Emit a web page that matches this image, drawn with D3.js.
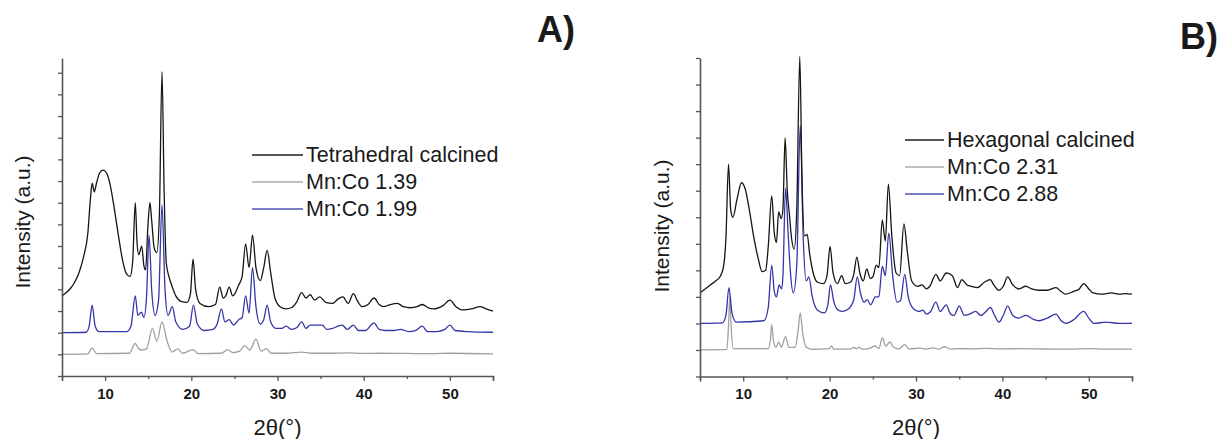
<!DOCTYPE html>
<html>
<head>
<meta charset="utf-8">
<script src="https://cdn.jsdelivr.net/npm/d3@7"></script>
<style>
  body { margin: 0; background: #fff; }
  svg { display: block; }
  text { font-family: "Liberation Sans", Arial, sans-serif; fill: #1a1a1a; }
</style>
</head>
<body>
<svg id="chart" width="1219" height="439"></svg>
<script>
// ---- data: [2theta, intensity in y-tick units] ----
var tetraCalcined = [[5,3.7],[5.5,3.85],[6,4.05],[6.5,4.35],[7,4.8],[7.5,5.5],[8,6.6],[8.3,8.2],[8.5,8.9],[8.75,8.5],[9,8.9],[9.4,9.4],[9.8,9.5],[10.2,9.35],[10.6,8.8],[11,7.9],[11.5,6.6],[12,5.4],[12.5,4.7],[12.9,4.6],[13.2,5.3],[13.5,8.0],[13.7,6.2],[13.9,5.6],[14.25,6.0],[14.5,5.1],[14.7,4.9],[14.95,6.8],[15.2,8.0],[15.4,7.2],[15.7,5.9],[16,5.7],[16.3,7.5],[16.6,14.05],[16.85,8.5],[17.1,5.2],[17.4,4.6],[17.8,4.1],[18.2,3.7],[18.8,3.45],[19.5,3.4],[19.9,3.8],[20.2,5.4],[20.5,4.0],[21,3.35],[22,3.2],[22.8,3.3],[23.3,4.1],[23.7,3.6],[24,3.7],[24.4,4.1],[24.8,3.7],[25.5,4.2],[25.9,4.6],[26.3,6.1],[26.7,5.0],[27.1,6.5],[27.5,5.0],[28,4.4],[28.4,5.0],[28.8,5.8],[29.2,4.8],[29.7,3.6],[30.3,3.2],[31,3.1],[31.6,3.15],[32.2,3.4],[32.8,3.85],[33.3,3.6],[33.8,3.75],[34.3,3.5],[34.9,3.65],[35.6,3.4],[36.4,3.35],[37,3.55],[37.6,3.65],[38.2,3.35],[38.8,3.8],[39.3,3.45],[39.8,3.2],[40.5,3.3],[41.2,3.6],[41.8,3.3],[42.3,3.2],[43.1,3.3],[43.9,3.35],[44.6,3.2],[45.4,3.15],[46.2,3.2],[46.8,3.3],[47.5,3.15],[48.1,3.1],[49.2,3.25],[50,3.5],[50.7,3.2],[51.5,3.05],[52.5,3.1],[53.5,3.2],[54.2,3.1],[55,3.0]]
var mnCo139 = [[5,1.0],[8,1.02],[8.5,1.3],[9,1.03],[12.8,1.05],[13.5,1.5],[13.9,1.25],[14.3,1.2],[14.8,1.25],[15.5,2.2],[16,1.6],[16.6,2.5],[17.2,1.6],[17.8,1.1],[18.4,1.25],[19,1.05],[20.2,1.22],[20.8,1.03],[23.5,1.05],[24.2,1.22],[24.8,1.08],[25.6,1.15],[26.2,1.4],[26.8,1.2],[27.5,1.7],[28.1,1.15],[28.7,1.25],[29.3,1.05],[31,1.05],[32.8,1.1],[34,1.05],[36,1.05],[38,1.07],[40,1.04],[42,1.05],[45,1.04],[48,1.03],[50,1.05],[55,1.02]]
var mnCo199 = [[5,2.0],[7.8,2.02],[8.15,2.3],[8.5,3.27],[8.85,2.3],[9.3,2.05],[12.5,2.05],[13,2.3],[13.5,3.7],[13.8,2.8],[14.2,2.95],[14.5,2.7],[14.8,3.6],[15.1,6.5],[15.4,4.0],[15.8,2.8],[16.2,3.5],[16.6,7.9],[16.95,4.0],[17.3,2.8],[17.8,3.2],[18.2,2.5],[19,2.15],[19.8,2.3],[20.25,3.27],[20.7,2.4],[21.5,2.1],[22.5,2.15],[23,2.4],[23.5,3.1],[23.9,2.5],[24.4,2.6],[24.9,2.35],[25.5,2.6],[25.9,2.7],[26.3,3.7],[26.7,2.9],[27.1,5.0],[27.5,3.2],[28,2.4],[28.4,2.6],[28.8,3.27],[29.2,2.5],[29.8,2.2],[30.5,2.2],[31,2.3],[31.6,2.15],[32.3,2.25],[32.8,2.5],[33.3,2.2],[33.8,2.35],[34.3,2.35],[35.2,2.35],[35.7,2.15],[36.4,2.2],[37,2.3],[37.5,2.35],[38.1,2.15],[38.8,2.35],[39.4,2.1],[40.2,2.1],[41.2,2.45],[41.8,2.15],[42.5,2.1],[43.5,2.1],[44.3,2.15],[45.2,2.05],[46,2.1],[46.8,2.3],[47.4,2.05],[48.5,2.05],[49.4,2.15],[50,2.35],[50.6,2.1],[52,2.05],[55,2.02]]

var hexaCalcined = [[5,3.15],[5.6,3.3],[6.2,3.45],[6.8,3.6],[7.3,3.75],[7.7,4.1],[8,5.2],[8.3,8.0],[8.55,6.3],[8.8,6.0],[9.3,6.7],[9.8,7.3],[10.2,7.1],[10.7,6.3],[11.2,5.3],[11.7,4.5],[12.2,3.95],[12.6,4.0],[12.9,4.9],[13.3,6.8],[13.6,5.4],[13.85,5.05],[14.1,6.2],[14.4,5.95],[14.6,6.3],[14.85,9.0],[15.1,7.0],[15.35,6.1],[15.6,5.2],[15.9,4.8],[16.2,6.3],[16.55,12.05],[16.8,7.5],[17.1,5.3],[17.4,5.35],[17.7,4.6],[18.1,3.9],[18.6,3.55],[19.3,3.5],[19.7,3.8],[20.05,4.9],[20.4,3.9],[20.9,3.5],[21.4,3.8],[21.8,3.5],[22.4,3.55],[22.8,3.85],[23.15,4.5],[23.5,3.9],[23.9,3.6],[24.3,4.05],[24.7,3.7],[25,3.75],[25.4,4.2],[25.7,4.1],[26.1,5.9],[26.45,5.1],[26.8,7.25],[27.2,5.3],[27.7,3.9],[28.1,3.8],[28.6,5.75],[29,4.7],[29.5,3.6],[30.2,3.4],[30.7,3.45],[31.2,3.3],[31.6,3.4],[32.3,3.85],[32.8,3.6],[33.5,3.9],[34.2,3.8],[34.8,3.35],[35.3,3.65],[35.9,3.45],[36.4,3.4],[37.1,3.35],[37.9,3.55],[38.6,3.65],[39,3.45],[39.6,3.25],[40.1,3.4],[40.6,3.75],[41.2,3.45],[41.9,3.3],[42.7,3.4],[43.4,3.3],[44.2,3.25],[45.2,3.25],[46.2,3.35],[46.8,3.2],[47.3,3.1],[48.2,3.2],[48.9,3.3],[49.4,3.5],[50,3.3],[50.5,3.15],[51.5,3.1],[52.6,3.15],[53.6,3.1],[54.2,3.12],[55,3.1]]
var mnCo231 = [[5,1.0],[8.1,1.02],[8.3,1.9],[8.45,3.0],[8.6,1.9],[8.85,1.05],[12.9,1.05],[13.15,1.4],[13.3,1.95],[13.5,1.35],[13.8,1.1],[14.1,1.3],[14.4,1.1],[14.9,1.5],[15.3,1.1],[16,1.1],[16.35,1.7],[16.6,2.4],[16.9,1.6],[17.3,1.1],[18,1.02],[20,1.05],[20.2,1.15],[20.5,1.03],[22.5,1.04],[22.8,1.1],[23.1,1.04],[23.4,1.1],[23.8,1.03],[24.5,1.05],[25.3,1.15],[25.7,1.05],[26.1,1.45],[26.5,1.15],[27,1.3],[27.4,1.1],[28,1.04],[28.7,1.2],[29.2,1.04],[30.5,1.07],[31.2,1.03],[32,1.08],[32.6,1.03],[33.3,1.12],[34,1.03],[35,1.05],[36.5,1.04],[38,1.06],[40,1.04],[42,1.05],[44,1.04],[46,1.03],[48,1.03],[50,1.05],[52,1.03],[55,1.03]]
var mnCo288 = [[5,2.0],[7.6,2.02],[8,2.3],[8.35,3.35],[8.7,2.4],[9.2,2.05],[12.4,2.1],[12.9,2.6],[13.3,4.2],[13.6,3.2],[13.85,3.0],[14.15,3.45],[14.45,3.3],[14.6,3.8],[14.9,7.1],[15.2,5.4],[15.45,4.0],[15.8,3.15],[16.2,4.2],[16.6,9.45],[16.95,5.2],[17.3,3.6],[17.6,3.75],[18,3.0],[18.6,2.5],[19.4,2.4],[19.8,2.7],[20.1,3.45],[20.5,2.8],[21,2.5],[21.5,2.45],[22.2,2.55],[22.8,2.9],[23.2,3.75],[23.6,3.1],[24,2.8],[24.35,2.9],[24.75,2.7],[25.3,3.0],[25.7,3.0],[26.1,4.15],[26.45,3.8],[26.85,5.4],[27.3,3.8],[27.8,2.8],[28.2,2.85],[28.7,3.85],[29.1,3.0],[29.7,2.55],[30.3,2.45],[30.8,2.5],[31.2,2.35],[31.7,2.45],[32.3,2.8],[32.8,2.45],[33.5,2.7],[34,2.35],[34.4,2.3],[35,2.65],[35.6,2.3],[36.2,2.35],[36.9,2.45],[37.5,2.3],[38.1,2.45],[38.6,2.6],[39.1,2.3],[39.6,2.05],[40.1,2.3],[40.6,2.65],[41.2,2.3],[41.9,2.2],[42.7,2.3],[43.6,2.15],[44.2,2.1],[45.2,2.2],[46.2,2.35],[46.8,2.1],[47.3,2.0],[48.3,2.15],[49.4,2.45],[50,2.2],[50.6,2.0],[52,2.05],[53.5,2.0],[55,2.0]]

var xMajor = [10, 20, 30, 40, 50]
var xMinor = [5, 15, 25, 35, 45, 55]
var labelsA = ['Tetrahedral calcined', 'Mn:Co 1.39', 'Mn:Co 1.99']
var labelsB = ['Hexagonal calcined', 'Mn:Co 2.31', 'Mn:Co 2.88']

var colors = { black: '#151515', gray: '#a0a0a0', blue: '#3535a8' }
var legendColors = ['#1e1e1e', '#ababab', '#5050b4']

var svg = d3.select('#chart')

// panel layout
var panels = [
  { name: 'A)', x0: 62, x1: 493, yTop: 58, yBot: 376, yMax: 14.68, nTicks: 14,
    series: [[mnCo139, colors.gray], [mnCo199, colors.blue], [tetraCalcined, colors.black]],
    labels: labelsA, legX: 252, legLen: 51, legY: 155, titleX: 537, titleY: 42,
    yLabX: 30, yLabY: 222 },
  { name: 'B)', x0: 700, x1: 1132, yTop: 58, yBot: 376.5, yMax: 12, nTicks: 12,
    series: [[mnCo231, colors.gray], [mnCo288, colors.blue], [hexaCalcined, colors.black]],
    labels: labelsB, legX: 905, legLen: 39, legY: 140, titleX: 1180, titleY: 49,
    yLabX: 669, yLabY: 226 }
]

panels.forEach(function(p){
  var g = svg.append('g')
  var x = d3.scaleLinear().domain([5, 55]).range([p.x0, p.x1])
  var y = d3.scaleLinear().domain([0, p.yMax]).range([p.yBot, p.yTop])

  var line = d3.line()
    .x(function(d){ return x(d[0]) })
    .y(function(d){ return y(d[1]) })
    .curve(d3.curveMonotoneX)

  //曲线
  p.series.forEach(function(s){
    g.append('path')
      .datum(s[0])
      .attr('d', line)
      .attr('fill', 'none')
      .attr('stroke', s[1])
      .attr('stroke-width', 1.3)
      .attr('stroke-linejoin', 'round')
  })

  //x轴
  var xAxis = g.append('g')
    .attr('transform', 'translate(0,' + p.yBot + ')')
    .call(d3.axisBottom(x).tickValues(xMajor).tickSize(5).tickPadding(7).tickFormat(d3.format('d')))
  xAxis.select('.domain').attr('stroke', '#555').attr('stroke-width', 1.6)
  xAxis.selectAll('.tick line').attr('stroke', '#555').attr('stroke-width', 1.3)
  xAxis.selectAll('.tick text')
    .style('font-size', '15px').style('font-weight', 'bold')
    .style('font-family', '"Liberation Sans", Arial, sans-serif').attr('fill', '#222')

  var xMin = g.append('g')
    .attr('transform', 'translate(0,' + p.yBot + ')')
    .call(d3.axisBottom(x).tickValues(xMinor).tickSize(3).tickFormat(''))
  xMin.select('.domain').remove()
  xMin.selectAll('.tick line').attr('stroke', '#555').attr('stroke-width', 1.3)

  //y轴
  var yAxis = g.append('g')
    .attr('transform', 'translate(' + p.x0 + ',0)')
    .call(d3.axisLeft(y).tickValues(d3.range(0, p.nTicks + 1)).tickSize(4).tickSizeOuter(0).tickFormat(''))
  yAxis.select('.domain').attr('stroke', '#555').attr('stroke-width', 1.6)
  yAxis.selectAll('.tick line').attr('stroke', '#555').attr('stroke-width', 1.3)

  //轴标题
  g.append('text')
    .attr('x', (p.x0 + p.x1) / 2)
    .attr('y', 435)
    .attr('text-anchor', 'middle')
    .style('font-size', '22px')
    .text('2θ(°)')

  g.append('text')
    .attr('transform', 'translate(' + p.yLabX + ',' + p.yLabY + ') rotate(-90)')
    .attr('text-anchor', 'middle')
    .style('font-size', '21px')
    .text('Intensity (a.u.)')

  //面板标记
  g.append('text')
    .attr('x', p.titleX)
    .attr('y', p.titleY)
    .style('font-size', '36px')
    .style('font-weight', 'bold')
    .text(p.name)

  //图例
  p.labels.forEach(function(lab, i){
    var ly = p.legY + i * 27
    g.append('line')
      .attr('x1', p.legX).attr('x2', p.legX + p.legLen)
      .attr('y1', ly).attr('y2', ly)
      .attr('stroke', legendColors[i])
      .attr('stroke-width', 1.4)
    g.append('text')
      .attr('x', p.legX + p.legLen + 3)
      .attr('y', ly + 6.5)
      .style('font-size', '21.5px')
      .text(lab)
  })
})
</script>
</body>
</html>
